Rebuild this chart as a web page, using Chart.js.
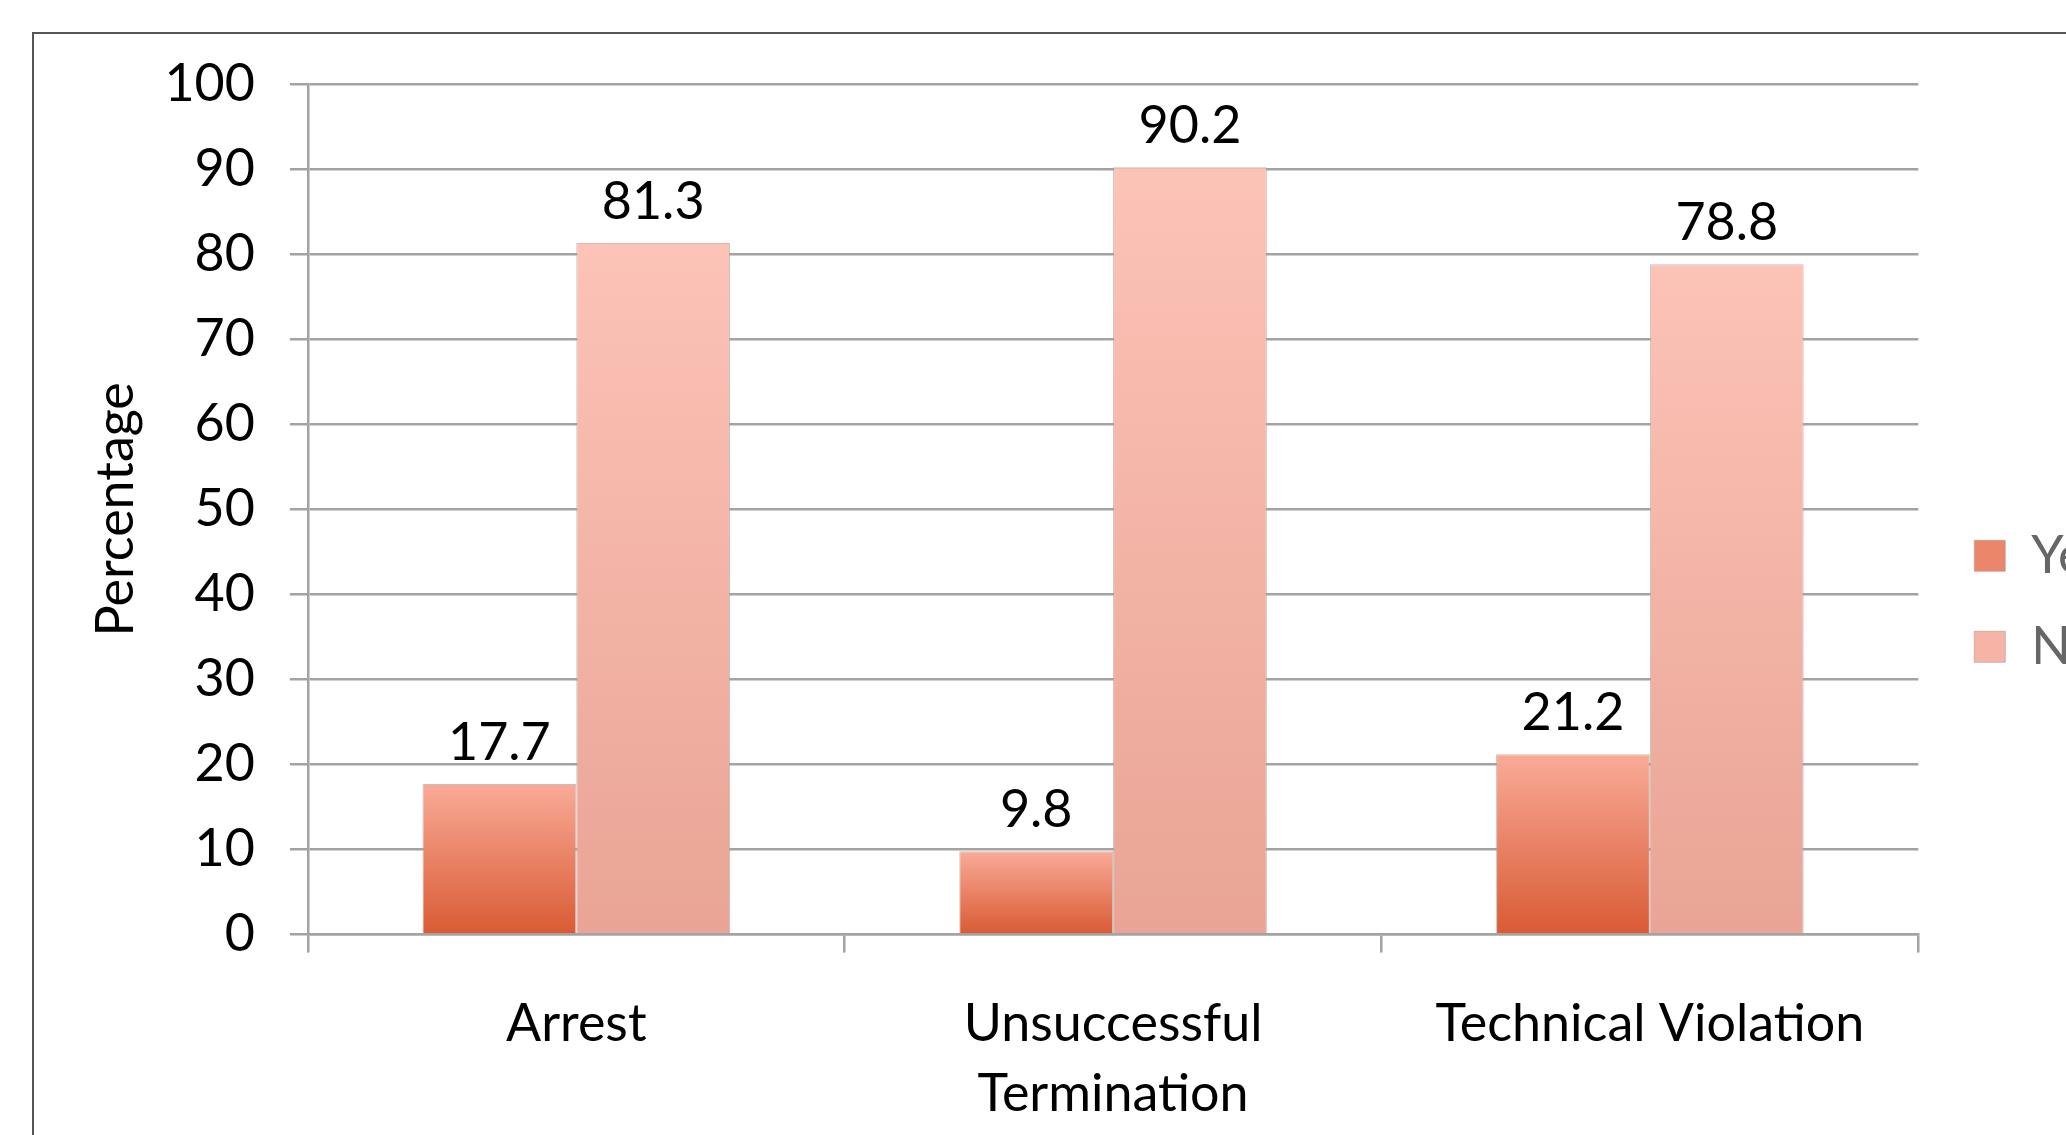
<!DOCTYPE html>
<html>
<head>
<meta charset="utf-8">
<script src="https://cdn.jsdelivr.net/npm/chart.js@4.4.1/dist/chart.umd.min.js"></script>
<style>
  html, body { margin: 0; padding: 0; background: #fff; overflow: hidden; }
  #wrap { position: absolute; left: 0; top: 0; width: 2200px; height: 1184px; }
</style>
</head>
<body>
<div id="wrap"><canvas id="chart" width="2200" height="1184"></canvas></div>
<script>
// Chart data
const categories = ['Arrest', ['Unsuccessful', 'Termination'], 'Technical Violation'];
const seriesNames = ['Yes', 'No'];
const yesValues = [17.7, 9.8, 21.2];
const noValues = [81.3, 90.2, 78.8];
const yTicks = [0, 10, 20, 30, 40, 50, 60, 70, 80, 90, 100];

const FONT = 'Lato, "Open Sans", sans-serif';
const FONT_SIZE = 52;
const GRID = '#a3a3a3';
const EDGE = 'rgba(185,160,150,0.7)';

// gradient from the bar's top down to the baseline
function barGradient(top, bottom) {
  return function (context) {
    const chart = context.chart;
    const y = chart.scales.y;
    if (!chart.chartArea || !y || context.dataIndex === undefined) return bottom;
    const v = context.dataset.data[context.dataIndex];
    const g = chart.ctx.createLinearGradient(0, y.getPixelForValue(v), 0, y.getPixelForValue(0));
    g.addColorStop(0, top);
    g.addColorStop(1, bottom);
    return g;
  };
}

// white page and the outer frame of the chart
const framePlugin = {
  id: 'frame',
  beforeDraw(chart) {
    const c = chart.ctx;
    c.save();
    c.fillStyle = '#fff';
    c.fillRect(0, 0, chart.width, chart.height);
    c.strokeStyle = '#555';
    c.lineWidth = 2;
    c.strokeRect(33, 33, 2150, 1140);
    c.restore();
  }
};

// value labels above each bar
const valueLabels = {
  id: 'valueLabels',
  afterDatasetsDraw(chart) {
    const c = chart.ctx;
    c.save();
    c.font = FONT_SIZE + 'px ' + FONT;
    c.fillStyle = '#000';
    c.textAlign = 'center';
    c.textBaseline = 'alphabetic';
    chart.data.datasets.forEach((ds, i) => {
      chart.getDatasetMeta(i).data.forEach((bar, j) => {
        c.fillText(ds.data[j].toFixed(1), bar.x, bar.y - 24);
      });
    });
    c.restore();
  }
};

new Chart(document.getElementById('chart'), {
  type: 'bar',
  data: {
    labels: categories,
    datasets: [
      {
        label: seriesNames[0],
        data: yesValues,
        backgroundColor: barGradient('#f9ab98', '#d95a33'),
        borderColor: EDGE,
        borderWidth: 1
      },
      {
        label: seriesNames[1],
        data: noValues,
        backgroundColor: barGradient('#fcc3b7', '#e9a495'),
        borderColor: EDGE,
        borderWidth: 1
      }
    ]
  },
  options: {
    responsive: false,
    animation: false,
    devicePixelRatio: 1,
    layout: { padding: { top: 84, left: 85, right: 82, bottom: 18 } },
    datasets: { bar: { categoryPercentage: 0.573, barPercentage: 1 } },
    plugins: {
      tooltip: { enabled: false },
      legend: {
        position: 'right',
        fullSize: false,
        // empty title only pushes the two entries down to mid-frame
        title: { display: true, text: ' ', font: { size: 10 }, padding: { top: 0, bottom: 172 } },
        labels: {
          boxWidth: 31,
          boxHeight: 31,
          padding: 39,
          color: '#000',
          font: { family: FONT, size: FONT_SIZE },
          generateLabels(chart) {
            const fills = ['#ec866a', '#f6b4a6'];
            return chart.data.datasets.map((ds, i) => ({
              text: ds.label,
              fillStyle: fills[i],
              strokeStyle: EDGE,
              lineWidth: 1,
              datasetIndex: i
            }));
          }
        }
      }
    },
    scales: {
      x: {
        grid: {
          display: true,
          drawOnChartArea: false,
          offset: true,
          color: GRID,
          lineWidth: 2.5,
          tickLength: 18
        },
        border: { color: GRID, width: 2.5 },
        ticks: {
          color: '#000',
          padding: 36,
          font: { family: FONT, size: FONT_SIZE, lineHeight: 1.36 },
          maxRotation: 0
        }
      },
      y: {
        min: 0,
        max: 100,
        afterBuildTicks(axis) {
          axis.ticks = yTicks.map(v => ({ value: v }));
        },
        grid: { color: GRID, lineWidth: 2.5, tickLength: 18 },
        border: { color: GRID, width: 2.5 },
        ticks: {
          color: '#000',
          padding: 35,
          font: { family: FONT, size: FONT_SIZE }
        },
        title: {
          display: true,
          text: 'Percentage',
          color: '#000',
          padding: { top: 0, bottom: -18 },
          font: { family: FONT, size: FONT_SIZE }
        }
      },
      // empty strip between plot and legend
      gap: {
        position: 'right',
        display: true,
        grid: { display: false },
        border: { display: false },
        ticks: { display: false },
        afterFit(scale) { scale.width = 17; }
      }
    }
  },
  plugins: [framePlugin, valueLabels]
});
</script>
</body>
</html>
